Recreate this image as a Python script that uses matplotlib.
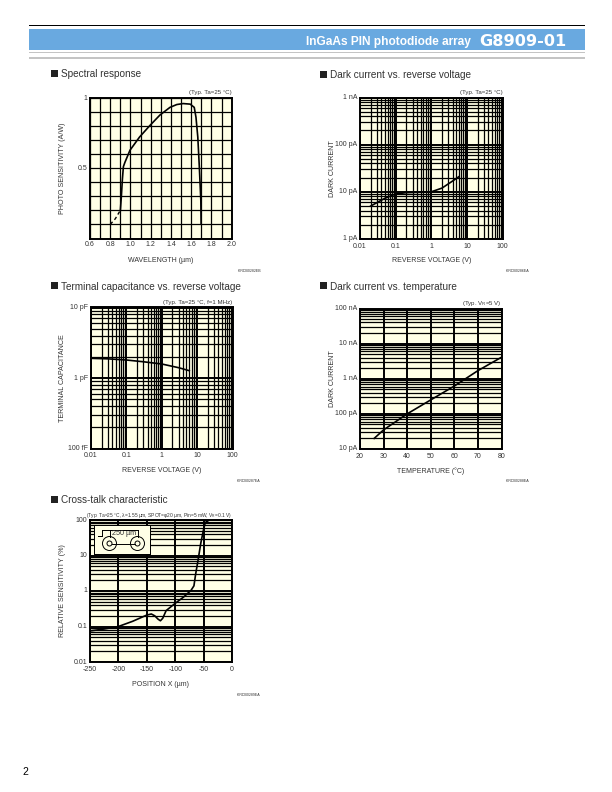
import matplotlib
matplotlib.use("Agg")
import matplotlib.pyplot as plt
from matplotlib.patches import Rectangle, Ellipse
from matplotlib.ticker import FixedLocator, NullFormatter
from matplotlib.transforms import ScaledTranslation
import numpy as np

plt.rcParams['font.family'] = ['Liberation Sans', 'DejaVu Sans']
W, H = 612, 792
CREAM = '#FFFFE6'
GREY = '#333333'

spec_dash_x = [0.80, 0.85, 0.90]
spec_dash_y = [0.10, 0.14, 0.20]
spec_x = [0.90, 0.91, 0.92, 0.93, 0.945, 0.995, 1.09, 1.19, 1.29, 1.39, 1.457, 1.52, 1.59, 1.63, 1.647, 1.665, 1.68, 1.695, 1.698]
spec_y = [0.20, 0.30, 0.42, 0.51, 0.54, 0.626, 0.72, 0.80, 0.875, 0.93, 0.95, 0.957, 0.953, 0.93, 0.86, 0.72, 0.51, 0.27, 0.105]

dark_v = [0.02, 0.05, 0.1, 0.2, 0.5, 1, 2, 4, 6]
dark_i = [5.0, 7.3, 9.0, 9.6, 9.8, 10.0, 12.0, 17.0, 21.0]

cap_v = [0.01, 0.03, 0.1, 0.3, 1, 3, 6]
cap_c = [1.9, 1.87, 1.8, 1.7, 1.58, 1.4, 1.27]

temp_t = [26, 30, 40, 50, 60, 70, 80]
temp_i = [20, 35, 100, 250, 620, 1700, 4100]

xt_x = [-250, -225, -200, -175, -150, -142, -136, -130, -126, -122, -116, -100, -85, -72, -67, -64, -60, -55, -50, -47, -40]
xt_y = [0.075, 0.085, 0.10, 0.14, 0.21, 0.225, 0.20, 0.16, 0.145, 0.17, 0.28, 0.45, 0.68, 1.05, 1.4, 3.0, 7.0, 22, 55, 85, 100]

fig = plt.figure(figsize=(W / 100, H / 100), dpi=100)
fig.patch.set_facecolor('white')

def rect(l, t, r, b):
    return [l / W, 1 - b / H, (r - l) / W, (b - t) / H]

def ftext(x, y, s, **kw):
    kw.setdefault('color', GREY)
    kw.setdefault('va', 'center')
    fig.text(x / W, 1 - y / H, s, **kw)

def frect(l, t, r, b, c):
    fig.add_artist(Rectangle((l / W, 1 - b / H), (r - l) / W, (b - t) / H, transform=fig.transFigure, fc=c, ec='none'))

def fline(x0, y0, x1, y1, lw=0.7):
    fig.add_artist(plt.Line2D([x0 / W, x1 / W], [1 - y0 / H, 1 - y1 / H], transform=fig.transFigure, color='black', lw=lw))

def log_minor(lo, hi):
    out = []
    for e in range(int(round(np.log10(lo))), int(round(np.log10(hi)))):
        out += [m * 10.0 ** e for m in range(2, 10)]
    return out

# header
frect(29, 24.6, 585, 25.6, 'black')
frect(29, 29, 585, 50, '#69A9E0')
frect(29, 52.3, 585, 53.3, '#C4C4C4')
frect(29, 57.5, 585, 58.5, '#C4C4C4')
ftext(471, 41.5, 'InGaAs PIN photodiode array', color='white', fontsize=8.6, fontweight='bold', ha='right', family='Liberation Sans')
ftext(479, 41, 'G8909-01', color='white', fontsize=11.6, fontweight='bold', ha='left', family='DejaVu Sans')
ftext(22, 772, '2', color='black', fontsize=7.5, ha='left')

def panel(box, title, title_xy, note, xlabel, ylabel, xlim, ylim, xlog, ylog, xticks, xlabels, yticks, ylabels, code, xl_y, yl_x, code_x, note_fs=4.4):
    ax = fig.add_axes(rect(*box))
    ax.set_facecolor(CREAM)
    if xlog: ax.set_xscale('log')
    if ylog: ax.set_yscale('log')
    ax.set_xlim(*xlim); ax.set_ylim(*ylim)
    ax.set_xticks(xticks); ax.set_xticklabels(xlabels)
    ax.set_yticks(yticks); ax.set_yticklabels(ylabels)
    ax.grid(True, which='major', color='black', lw=1.4)
    if xlog:
        ax.xaxis.set_minor_locator(FixedLocator(log_minor(*xlim)))
        ax.xaxis.set_minor_formatter(NullFormatter())
        ax.grid(True, axis='x', which='minor', color='black', lw=0.9)
    if ylog:
        ax.yaxis.set_minor_locator(FixedLocator(log_minor(*ylim)))
        ax.yaxis.set_minor_formatter(NullFormatter())
        ax.grid(True, axis='y', which='minor', color='black', lw=0.9)
    ax.tick_params(which='both', length=0, labelsize=5, colors=GREY, pad=2)
    ax.set_axisbelow(True)
    for s in ax.spines.values():
        s.set_linewidth(1.4); s.set_color('black')
    up = ScaledTranslation(0, 1 / 100, fig.dpi_scale_trans)
    down = ScaledTranslation(0, -1 / 100, fig.dpi_scale_trans)
    for lab in ax.get_yticklabels():
        lab.set_transform(lab.get_transform() + up)
    for lab in ax.get_xticklabels():
        lab.set_transform(lab.get_transform() + down)
    l, t, r, b = box
    frect(title_xy[0], title_xy[1] - 3.5, title_xy[0] + 7, title_xy[1] + 3.5, '#222222')
    ftext(title_xy[0] + 10, title_xy[1] + 0.5, title, fontsize=7.2, ha='left')
    ftext(r, t - 5, note, fontsize=note_fs, ha='right')
    ftext((l + r) / 2, xl_y, xlabel, fontsize=5.0, ha='center')
    ftext(yl_x, (t + b) / 2, ylabel, fontsize=5.1, ha='center', rotation=90)
    ftext(code_x, xl_y + 10.5, code, fontsize=2.6, ha='right')
    return ax

# Spectral response
ax1 = panel((90, 97.5, 231.7, 238.5), 'Spectral response', (51, 73.5), '(Typ. Ta=25 °C)', 'WAVELENGTH (µm)', 'PHOTO SENSITIVITY (A/W)',
            (0.6, 2.0), (0, 1), False, False, [0.6, 0.8, 1.0, 1.2, 1.4, 1.6, 1.8, 2.0], ['0.6', '0.8', '1.0', '1.2', '1.4', '1.6', '1.8', '2.0'],
            [0.5, 1], ['0.5', '1'], 'KIRDB0282EB', 261, 63, 261)
ax1.set_xticks(np.arange(0.6, 2.01, 0.1), minor=True)
ax1.set_yticks(np.arange(0, 1.01, 0.1), minor=True)
ax1.grid(True, which='both', color='black', lw=0.9)
ax1.tick_params(which='both', length=0)
ax1.plot(spec_dash_x, spec_dash_y, color='black', lw=1, ls=(0, (2.5, 2)), zorder=5)
ax1.plot(spec_x, spec_y, color='black', lw=1.2, zorder=5)

# Dark current vs reverse voltage
ax2 = panel((360, 97.5, 502.5, 239), 'Dark current vs. reverse voltage', (320, 74.5), '(Typ. Ta=25 °C)', 'REVERSE VOLTAGE (V)', 'DARK CURRENT',
            (0.01, 100), (1, 1000), True, True, [0.01, 0.1, 1, 10, 100], ['0.01', '0.1', '1', '10', '100'],
            [1, 10, 100, 1000], ['1 pA', '10 pA', '100 pA', '1 nA'], 'KIRDB0286EA', 261, 332, 529)
ax2.plot(dark_v, dark_i, color='black', lw=1.2, zorder=5)

# Terminal capacitance
ax3 = panel((91, 307.5, 232.5, 448.5), 'Terminal capacitance vs. reverse voltage', (51, 286), '(Typ. Ta=25 °C, f=1 MHz)', 'REVERSE VOLTAGE (V)', 'TERMINAL CAPACITANCE',
            (0.01, 100), (0.1, 10), True, True, [0.01, 0.1, 1, 10, 100], ['0.01', '0.1', '1', '10', '100'],
            [0.1, 1, 10], ['100 fF', '1 pF', '10 pF'], 'KIRDB0287EA', 471, 63, 260)
ax3.plot(cap_v, cap_c, color='black', lw=1.2, zorder=5)

# Dark current vs temperature
ax4 = panel((360, 308.5, 501.5, 449), 'Dark current vs. temperature', (320, 286), r'(Typ. V$\mathregular{_R}$=5 V)', 'TEMPERATURE (°C)', 'DARK CURRENT',
            (20, 80), (10, 100000), False, True, [20, 30, 40, 50, 60, 70, 80], ['20', '30', '40', '50', '60', '70', '80'],
            [10, 100, 1000, 10000, 100000], ['10 pA', '100 pA', '1 nA', '10 nA', '100 nA'], 'KIRDB0288EA', 471, 332, 529)
ax4.plot(temp_t, temp_i, color='black', lw=1.2, zorder=5)

# Cross-talk
ax5 = panel((90, 520, 232, 662), 'Cross-talk characteristic', (51, 499.5), r'(Typ. Ta=25 °C, λ=1.55 µm, SPOT=φ20 µm, Pin=5 mW, V$\mathregular{_R}$=0.1 V)', 'POSITION X (µm)', 'RELATIVE SENSITIVITY (%)',
            (-250, 0), (0.01, 100), False, True, [-250, -200, -150, -100, -50, 0], ['-250', '-200', '-150', '-100', '-50', '0'],
            [0.01, 0.1, 1, 10, 100], ['0.01', '0.1', '1', '10', '100'], 'KIRDB0289EA', 684, 63, 260, note_fs=3.5)
ax5.plot(xt_x, xt_y, color='black', lw=1.2, zorder=5)

# inset diagram, in figure pixels
frect(94, 525, 150.5, 554.5, 'black')
frect(95, 526, 149.5, 553.5, CREAM)
c1, c2, cy = 109.5, 137.5, 543.5
fline(101.5, 530, 137.5, 530)
fline(109.5, 530, 109.5, 536.5)
fline(137.5, 530, 137.5, 536.5)
fline(101.5, 530, 101.5, 536)
frect(113, 530.5, 134, 536, CREAM)
ftext(124, 533.2, '250 µm', fontsize=5.2, ha='center')
for cx in (c1, c2):
    for rad in (7, 2.5):
        fig.add_artist(Ellipse((cx / W, 1 - cy / H), 2 * rad / W, 2 * rad / H, transform=fig.transFigure, fc=CREAM, ec='black', lw=0.7))
fline(c1 + 2.5, cy, c2 - 2.5, cy)
frect(98, 535.5, 103, 537.2, 'black')

fig.savefig('out.png', dpi=100)
